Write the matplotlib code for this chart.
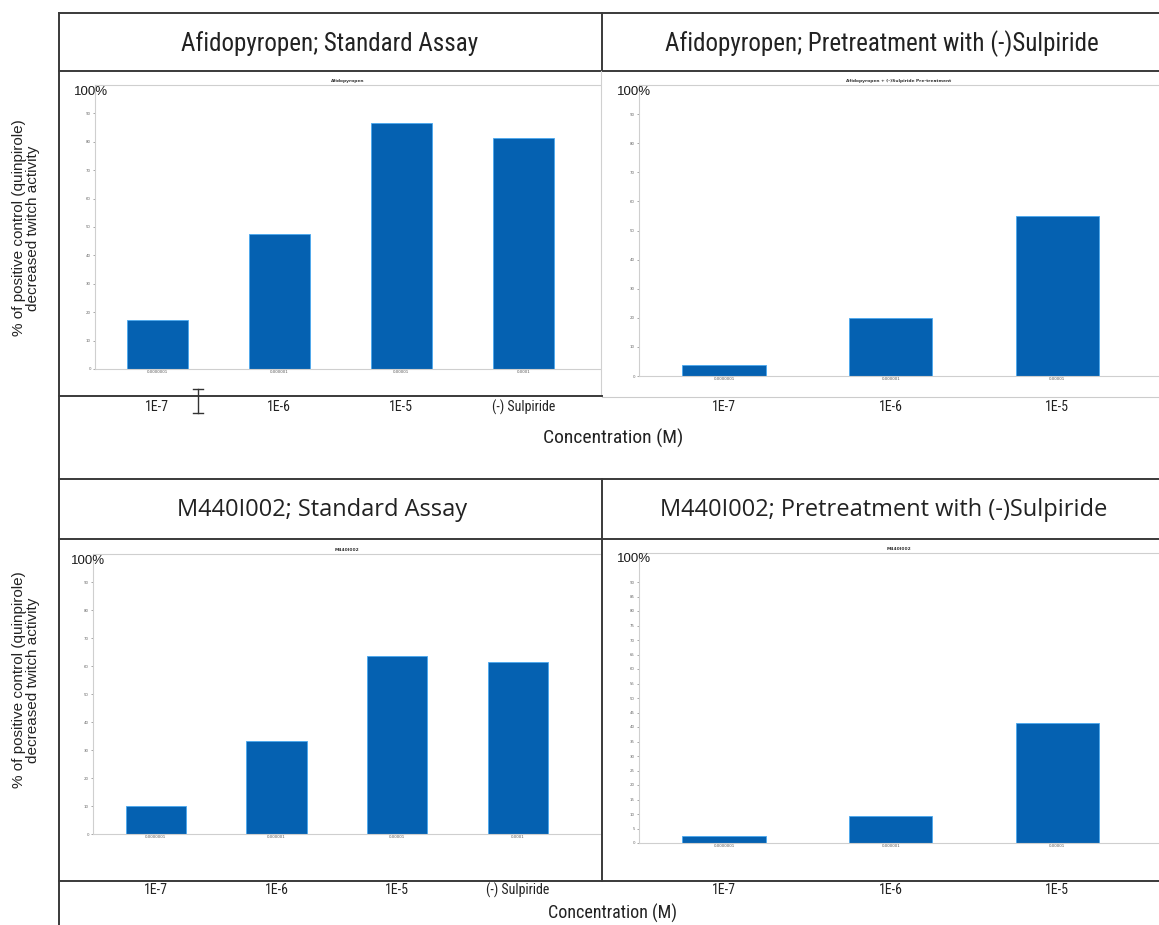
import matplotlib.pyplot as plt
import matplotlib.transforms as mtransforms
from matplotlib.lines import Line2D

# bar heights, % of positive control
categories_std = ["1E-7", "1E-6", "1E-5", "(-) Sulpiride"]
categories_pre = ["1E-7", "1E-6", "1E-5"]
afido_std = [17.3, 47.4, 86.5, 81.2]
afido_pre = [3.8, 19.8, 55.1]
m440_std = [10.1, 33.1, 63.4, 61.5]
m440_pre = [2.3, 9.2, 41.3]
conc_values = ["0.0000001", "0.000001", "0.00001", "0.0001"]

W, H = 1159, 925
BLUE = "#0561b1"
LINE = "#3a3a3a"
NARROW = dict(family=["Liberation Sans Narrow", "Roboto Condensed", "DejaVu Sans"],
              stretch="condensed")
ARIAL = ["Liberation Sans", "DejaVu Sans"]

fig = plt.figure(figsize=(W / 100, H / 100), dpi=100)


def fx(x):
    return x / W


def fy(y):
    return 1 - y / H


def hline(y, x0, x1, color=LINE, lw=1.4):
    fig.add_artist(Line2D([fx(x0), fx(x1)], [fy(y), fy(y)], color=color, lw=lw))


def vline(x, y0, y1, color=LINE, lw=1.4):
    fig.add_artist(Line2D([fx(x), fx(x)], [fy(y0), fy(y1)], color=color, lw=lw))


def bar_panel(left, top, right, bottom, xlim, values, labels, title, ystep, label_y):
    ax = fig.add_axes([fx(left), fy(bottom), (right - left) / W, (bottom - top) / H])
    x = list(range(len(values)))
    ax.bar(x, values, width=0.5, color=BLUE, edgecolor="#4aa8f0", linewidth=0.6)
    ax.set_xlim(*xlim)
    ax.set_ylim(0, 100)
    ax.set_yticks(range(0, 91, ystep))
    ax.set_yticklabels([str(v) for v in range(0, 91, ystep)])
    ax.set_xticks(x, conc_values[:len(values)])
    ax.tick_params(axis="y", labelsize=2.8, length=1.5, width=0.4, pad=1.5,
                   colors="#666666")
    ax.tick_params(axis="x", labelsize=2.8, length=0, pad=1, colors="#555555")
    for side in ["left", "bottom", "top"]:
        ax.spines[side].set_color("#cfcfcf")
        ax.spines[side].set_linewidth(0.8)
    ax.spines["right"].set_visible(False)
    ax.set_title(title, fontsize=3.2, pad=2, color="#333333", fontweight="bold")
    # concentration labels in the table row underneath
    trans = mtransforms.blended_transform_factory(ax.transData, fig.transFigure)
    for xi, lab in zip(x, labels):
        ax.text(xi, fy(label_y), lab, transform=trans, ha="center", va="center",
                fontsize=10, color="#222222", **NARROW)
    return ax


# top row
bar_panel(95, 85, 600, 369, (-0.51, 3.63), afido_std, categories_std,
          "Afidopyropen", 10, 407)
bar_panel(639, 85, 1159, 376, (-0.51, 2.61), afido_pre, categories_pre,
          "Afidopyropen + (-)Sulpiride Pre-treatment", 10, 407)
# bottom row
bar_panel(93, 554, 600, 834, (-0.52, 3.68), m440_std, categories_std,
          "M440I002", 10, 890)
bar_panel(639, 553, 1159, 843, (-0.51, 2.61), m440_pre, categories_pre,
          "M440I002", 5, 890)

# "100%" markers above each y axis
for x, y in [(91, 92), (634, 92), (88, 561), (634, 559)]:
    fig.text(fx(x), fy(y), "100%", ha="center", va="center", fontsize=9.5,
             family=ARIAL, color="#1a1a1a")

# table grid
hline(13, 59, W)
vline(59, 13, H)
hline(71, 59, W)
vline(602, 13, 71)
vline(601, 71, 396, color="#d0d0d0", lw=0.8)
hline(396, 59, 602)
hline(397, 602, W, color="#cccccc", lw=0.8)
hline(479, 59, W)
hline(539, 59, W)
vline(602, 479, 881)
hline(881, 59, W)

# text cursor left over in the top-left cell
hline(389, 193, 203, color="#333333", lw=1.0)
vline(198, 389, 413, color="#333333", lw=1.0)
hline(413, 193, 203, color="#333333", lw=1.0)

# header cells
fig.text(fx(330), fy(44), "Afidopyropen; Standard Assay", ha="center", va="center",
         fontsize=18, color="#222222", **NARROW)
fig.text(fx(882), fy(44), "Afidopyropen; Pretreatment with (-)Sulpiride",
         ha="center", va="center", fontsize=18, color="#222222", **NARROW)
fig.text(fx(322), fy(510), "M440I002; Standard Assay", ha="center", va="center",
         fontsize=17, family=["Open Sans", "DejaVu Sans"], color="#222222")
fig.text(fx(884), fy(510), "M440I002; Pretreatment with (-)Sulpiride",
         ha="center", va="center", fontsize=17, family=["Open Sans", "DejaVu Sans"],
         color="#222222")

# x-axis titles
fig.text(fx(613), fy(438), "Concentration (M)", ha="center", va="center",
         fontsize=14, color="#222222", **NARROW)
fig.text(fx(613), fy(913), "Concentration (M)", ha="center", va="center",
         fontsize=13, color="#222222", **NARROW)

# y-axis titles
ylab = "% of positive control (quinpirole)\ndecreased twitch activity"
for y in [228, 680]:
    fig.text(fx(26), fy(y), ylab, ha="center", va="center", rotation=90,
             fontsize=11, family=ARIAL, color="#222222", linespacing=0.95)

fig.savefig("out.png", dpi=100)
